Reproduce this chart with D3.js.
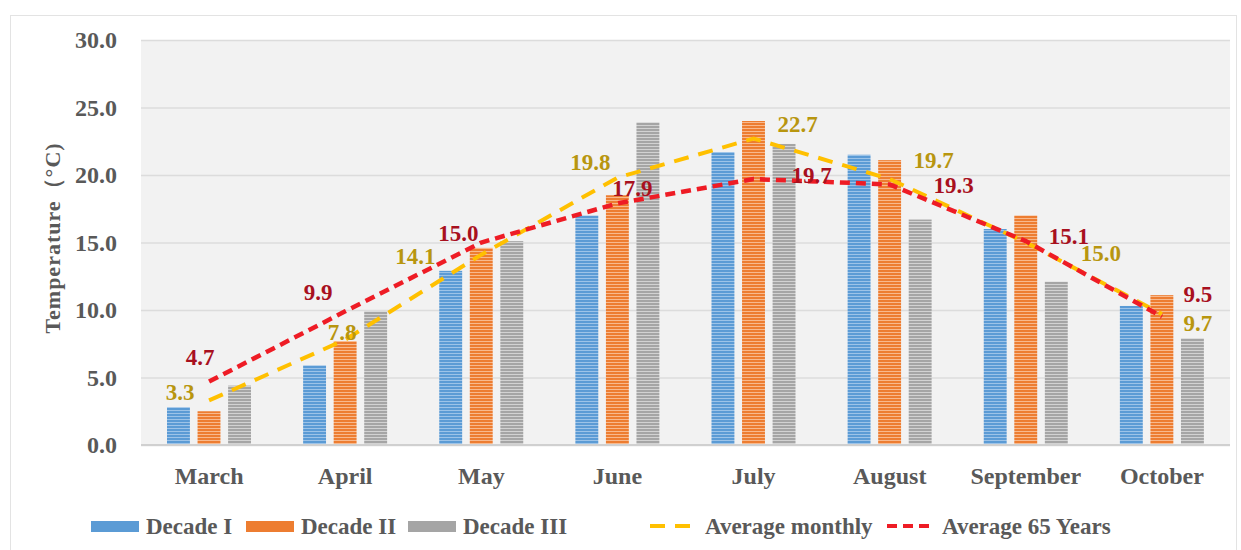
<!DOCTYPE html>
<html>
<head>
<meta charset="utf-8">
<script src="https://cdn.jsdelivr.net/npm/d3@7"></script>
<style>
  body { margin: 0; background: #ffffff; }
  text { font-family: "Liberation Serif", "Times New Roman", serif; font-weight: bold; }
</style>
</head>
<body>
<div id="vis-container"></div>
<script>
// chart data
var months = ["March", "April", "May", "June", "July", "August", "September", "October"];
var decade1 = [2.8, 5.9, 12.9, 17.0, 21.7, 21.5, 16.0, 10.3];
var decade2 = [2.5, 7.7, 14.6, 18.5, 24.0, 21.1, 17.0, 11.1];
var decade3 = [4.4, 9.9, 15.1, 23.9, 22.3, 16.7, 12.1, 7.9];
var avgMonthly = [3.3, 7.8, 14.1, 19.8, 22.7, 19.7, 15.0, 9.7];
var avg65 = [4.7, 9.9, 15.0, 17.9, 19.7, 19.3, 15.1, 9.5];
var yTicks = [0, 5, 10, 15, 20, 25, 30];

// label placement (pixel offsets from point), not data
var avgMonthlyOff = [[-29, -8], [-3, -7], [-66, 2], [-27, -15], [44, -14], [44, -19], [75, 11], [36, 9]];
var avg65Off = [[-9, -24], [-27, -19], [-23, -9], [15, -15], [58, -4], [64, 1], [43, -5], [36, -22]];

var width = 1241, height = 550;
var margin = {left: 141, right: 11, top: 40, bottom: 105};

var svg = d3.select("#vis-container").append("svg")
  .attr("width", width)
  .attr("height", height);

// outer frame
svg.append("rect")
  .attr("x", 10.5).attr("y", 15.5)
  .attr("width", 1226).attr("height", 540)
  .attr("fill", "#ffffff")
  .attr("stroke", "#e3e3e3");

var x = d3.scaleBand().domain(months).range([margin.left, width - margin.right]);
var y = d3.scaleLinear().domain([0, 30]).range([height - margin.bottom, margin.top]);
var sub = d3.scaleBand().domain([0, 1, 2]).range([0, 84]).paddingInner(0.25);

// plot background
svg.append("rect")
  .attr("x", margin.left).attr("y", y(30))
  .attr("width", x.range()[1] - margin.left).attr("height", y(0) - y(30))
  .attr("fill", "#f2f2f2");

// striped fills
var defs = svg.append("defs");
var fills = [["#5b9bd5", "#9cc3e8"], ["#ed7d31", "#f8b98d"], ["#a5a5a5", "#d2d2d2"]];
fills.forEach(function(c, i) {
  var p = defs.append("pattern")
    .attr("id", "stripe" + i)
    .attr("patternUnits", "userSpaceOnUse")
    .attr("width", 10).attr("height", 3);
  p.append("rect").attr("width", 10).attr("height", 3).attr("fill", c[0]);
  p.append("rect").attr("y", 2).attr("width", 10).attr("height", 1).attr("fill", c[1]);
});

// grid
var yaxis = d3.axisLeft(y).tickValues(yTicks).tickSize(-(x.range()[1] - margin.left)).tickFormat(d3.format(".1f"));
var yaxisg = svg.append("g")
  .attr("transform", "translate(" + margin.left + ",0)")
  .call(yaxis);
yaxisg.select(".domain").remove();
yaxisg.selectAll(".tick line").attr("stroke", "#dcdcdc").attr("stroke-width", 1.5);
yaxisg.selectAll(".tick text")
  .attr("x", -24)
  .attr("fill", "#595959")
  .style("font-size", "24px");

// bars
var series = [decade1, decade2, decade3];
series.forEach(function(vals, i) {
  svg.append("g").selectAll("rect")
    .data(vals)
    .enter()
    .append("rect")
    .attr("x", function(d, j) { return x(months[j]) + 26 + sub(i); })
    .attr("y", function(d) { return y(d); })
    .attr("width", sub.bandwidth())
    .attr("height", function(d) { return y(0) - y(d); })
    .attr("fill", "url(#stripe" + i + ")");
});

// x axis line
svg.append("line")
  .attr("x1", margin.left).attr("x2", x.range()[1])
  .attr("y1", y(0)).attr("y2", y(0))
  .attr("stroke", "#d0d0d0").attr("stroke-width", 2);

var xaxis = d3.axisBottom(x).tickSize(0);
var xaxisg = svg.append("g")
  .attr("transform", "translate(0," + y(0) + ")")
  .call(xaxis);
xaxisg.select(".domain").remove();
xaxisg.selectAll(".tick text")
  .attr("y", 22)
  .attr("fill", "#595959")
  .style("font-size", "24px");

// lines
var cx = function(d, j) { return x(months[j]) + x.bandwidth() / 2; };
var line = d3.line().x(cx).y(function(d) { return y(d); });

svg.append("path")
  .datum(avgMonthly)
  .attr("d", line)
  .attr("fill", "none")
  .attr("stroke", "#ffc000")
  .attr("stroke-width", 4)
  .attr("stroke-dasharray", "15,10");

svg.append("path")
  .datum(avg65)
  .attr("d", line)
  .attr("fill", "none")
  .attr("stroke", "#ee1c25")
  .attr("stroke-width", 4.5)
  .attr("stroke-dasharray", "10,6");

// data labels
svg.append("g").selectAll("text")
  .data(avgMonthly)
  .enter()
  .append("text")
  .attr("x", function(d, j) { return cx(d, j) + avgMonthlyOff[j][0]; })
  .attr("y", function(d, j) { return y(d) + avgMonthlyOff[j][1]; })
  .attr("text-anchor", "middle")
  .attr("dominant-baseline", "central")
  .attr("fill", "#b8960f")
  .style("font-size", "23px")
  .text(function(d) { return d.toFixed(1); });

svg.append("g").selectAll("text")
  .data(avg65)
  .enter()
  .append("text")
  .attr("x", function(d, j) { return cx(d, j) + avg65Off[j][0]; })
  .attr("y", function(d, j) { return y(d) + avg65Off[j][1]; })
  .attr("text-anchor", "middle")
  .attr("dominant-baseline", "central")
  .attr("fill", "#a8101e")
  .style("font-size", "23px")
  .text(function(d) { return d.toFixed(1); });

// y title
svg.append("text")
  .attr("transform", "translate(52,238) rotate(-90)")
  .attr("text-anchor", "middle")
  .attr("dominant-baseline", "central")
  .attr("fill", "#595959")
  .style("font-size", "22px")
  .style("letter-spacing", "1px")
  .text("Temperature（°C)");

// legend
var legend = svg.append("g").attr("transform", "translate(0,526)");
var legendItems = [
  {name: "Decade I", type: "bar", fill: "#5b9bd5", x: 91},
  {name: "Decade II", type: "bar", fill: "#ed7d31", x: 246},
  {name: "Decade III", type: "bar", fill: "#a5a5a5", x: 408},
  {name: "Average monthly", type: "line", fill: "#ffc000", dash: "15,10", x: 650},
  {name: "Average 65 Years", type: "line", fill: "#ee1c25", dash: "10,6", x: 887}
];
legendItems.forEach(function(it) {
  if (it.type === "bar") {
    legend.append("rect")
      .attr("x", it.x).attr("y", -5)
      .attr("width", 48).attr("height", 11)
      .attr("fill", it.fill);
  } else {
    legend.append("line")
      .attr("x1", it.x).attr("x2", it.x + 48)
      .attr("y1", 0).attr("y2", 0)
      .attr("stroke", it.fill)
      .attr("stroke-width", 4)
      .attr("stroke-dasharray", it.dash);
  }
  legend.append("text")
    .attr("x", it.x + 55)
    .attr("y", 0)
    .attr("dominant-baseline", "central")
    .attr("fill", "#595959")
    .style("font-size", "23px")
    .text(it.name);
});
</script>
</body>
</html>
